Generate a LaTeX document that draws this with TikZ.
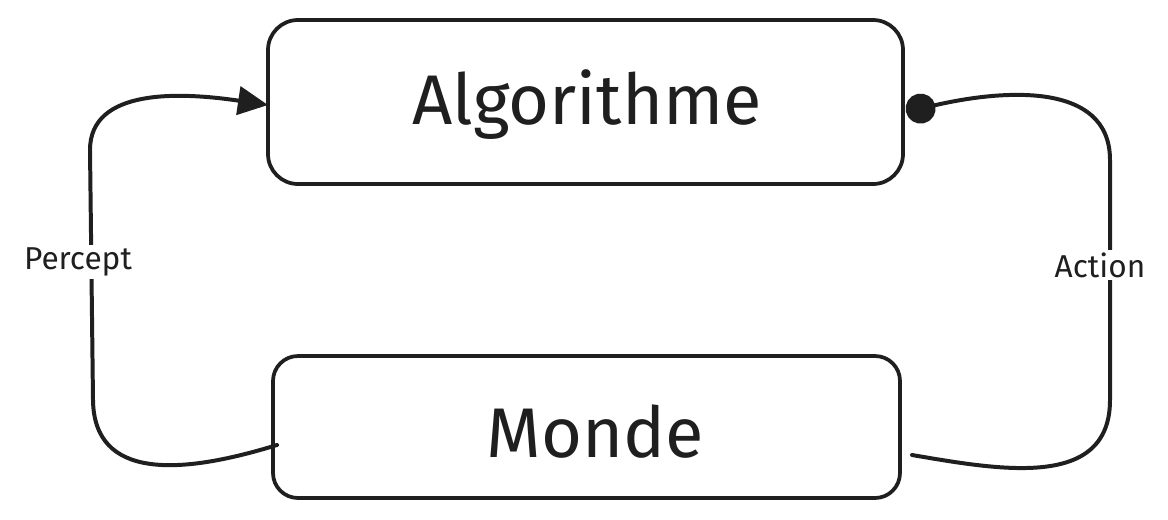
\documentclass[tikz,border=0pt]{standalone}
\usepackage{fontspec}
\setmainfont{Fira Sans}
\usetikzlibrary{arrows.meta}
\begin{document}
\begin{tikzpicture}[x=0.03cm,y=-0.03cm,
  box/.style={draw=black!88, line width=3.2pt, rounded corners=0.9cm, inner sep=0pt},
  conn/.style={draw=black!88, line width=3.4pt, line cap=round},
  lbl/.style={fill=white, inner sep=2pt, font=\fontsize{27}{29}\selectfont, text=black!88},
  big/.style={font=\fontsize{60}{64}\selectfont, text=black!88}]
\useasboundingbox (0,0) rectangle (1168,519);
\node[box, minimum width=635*0.03cm, minimum height=164*0.03cm] (algo) at (585.5,102) {};
\node[big] (algotxt) at (587,105) {Algorithme};
\node[box, minimum width=627*0.03cm, minimum height=142*0.03cm, rounded corners=0.75cm] (monde) at (586.5,427) {};
\node[big] (mondetxt) at (595,432) {Monde};
\coordinate (ml) at (277,445);
\coordinate (al) at (268,105);
\coordinate (mr) at (912,455);
\coordinate (ar) at (906,112);
\draw[conn, -{Triangle[length=0.9cm,width=0.85cm]}] (ml) .. controls (180,475) and (94,480) .. (93,400) -- (90,150) .. controls (90,88) and (180,92) .. (al);
\draw[conn, -{Circle[length=0.9cm,width=0.9cm]}] (mr) .. controls (1000,470) and (1110,490) .. (1110,400) -- (1110,160) .. controls (1110,80) and (1000,90) .. (ar);
\node[lbl] (percept) at (78,262) {Percept};
\node[lbl] (action) at (1100,265) {Action};
\end{tikzpicture}
\end{document}
